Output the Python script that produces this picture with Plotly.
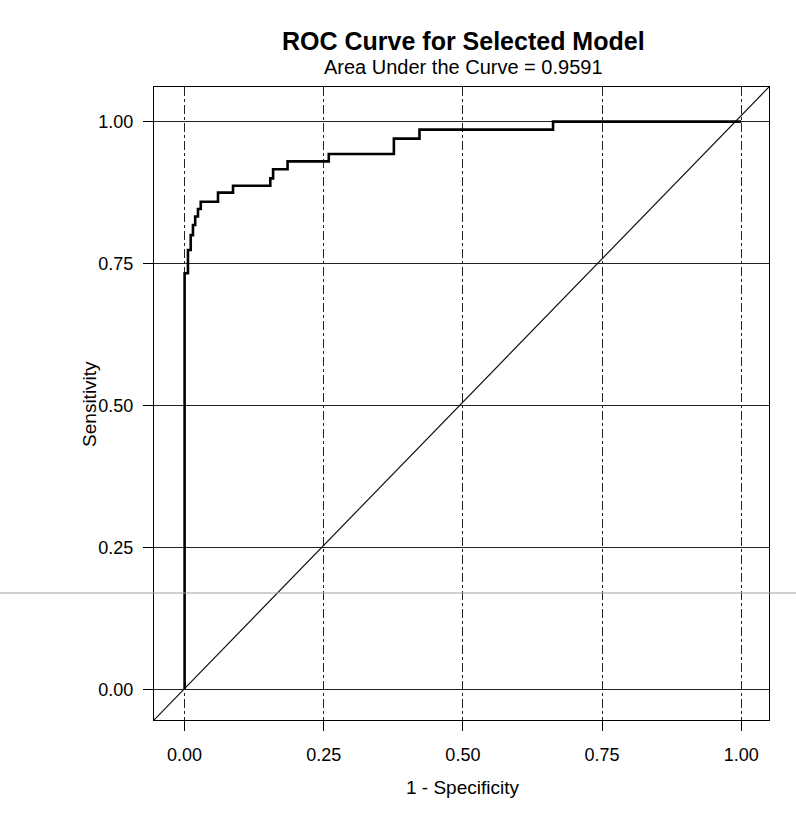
import plotly.graph_objects as go

# ROC step curve vertices (1 - specificity, sensitivity)
fpr = [0.0, 0.0, 0.006, 0.011, 0.015, 0.019, 0.024, 0.029, 0.060, 0.087,
       0.154, 0.159, 0.185, 0.259, 0.376, 0.422, 0.662, 1.0]
tpr = [0.0, 0.733, 0.774, 0.800, 0.818, 0.833, 0.846, 0.859, 0.875, 0.887,
       0.900, 0.916, 0.930, 0.943, 0.970, 0.986, 1.0, 1.0]

tick_vals = [0.0, 0.25, 0.5, 0.75, 1.0]
tick_text = ["0.00", "0.25", "0.50", "0.75", "1.00"]

x_range = [-0.055, 1.05]
y_range = [-0.054, 1.061]

title_text = "<b>ROC Curve for Selected Model</b>"
subtitle_text = "Area Under the Curve = 0.9591"
x_title = "1 - Specificity"
y_title = "Sensitivity"

FONT = "Liberation Sans, Arial, sans-serif"

fig = go.Figure()

scan_y = (720 - 593) / 633  # paper fraction of the faint scan line

fig.add_shape(type="line", xref="paper", yref="paper", x0=-0.26, x1=1.05,
              y0=scan_y, y1=scan_y, line=dict(color="#a0a0a0", width=1),
              layer="above")

# chance diagonal, corner to corner
fig.add_trace(go.Scatter(
    x=[x_range[0], x_range[1]], y=[y_range[0], y_range[1]],
    mode="lines", line=dict(color="#111111", width=1.2),
    hoverinfo="skip", showlegend=False))

fig.add_trace(go.Scatter(
    x=fpr, y=tpr, mode="lines", line=dict(color="black", width=2.6, shape="hv"),
    showlegend=False))

axis_common = dict(
    tickvals=tick_vals, ticktext=tick_text,
    showline=True, linecolor="black", linewidth=1.2, mirror=True,
    ticks="outside", ticklen=10, tickcolor="black", tickwidth=1,
    zeroline=False, showgrid=True, gridcolor="#222222", gridwidth=1,
    tickfont=dict(family=FONT, size=18, color="black"),
)

fig.update_xaxes(range=x_range, griddash="dashdot", ticklabelstandoff=8,
                 **axis_common)
fig.update_yaxes(range=y_range, griddash="solid", ticklabelstandoff=6,
                 **axis_common)

fig.update_layout(
    width=796, height=820,
    margin=dict(l=154, r=27, t=87, b=100),
    paper_bgcolor="white", plot_bgcolor="white",
    font=dict(family=FONT, color="black"),
    annotations=[
        dict(text=title_text, xref="paper", yref="paper", x=0.504, y=1.073,
             xanchor="center", yanchor="middle", showarrow=False,
             font=dict(size=25, family=FONT, color="black")),
        dict(text=subtitle_text, xref="paper", yref="paper", x=0.504, y=1.031,
             xanchor="center", yanchor="middle", showarrow=False,
             font=dict(size=20, family=FONT, color="black")),
        dict(text=x_title, xref="paper", yref="paper", x=0.502, y=-0.107,
             xanchor="center", yanchor="middle", showarrow=False,
             font=dict(size=19, family=FONT, color="black")),
        dict(text=y_title, xref="paper", yref="paper", x=-0.105, y=0.5,
             xanchor="center", yanchor="middle", showarrow=False, textangle=-90,
             font=dict(size=19, family=FONT, color="black")),
    ],
)

fig.write_html("out.html")
